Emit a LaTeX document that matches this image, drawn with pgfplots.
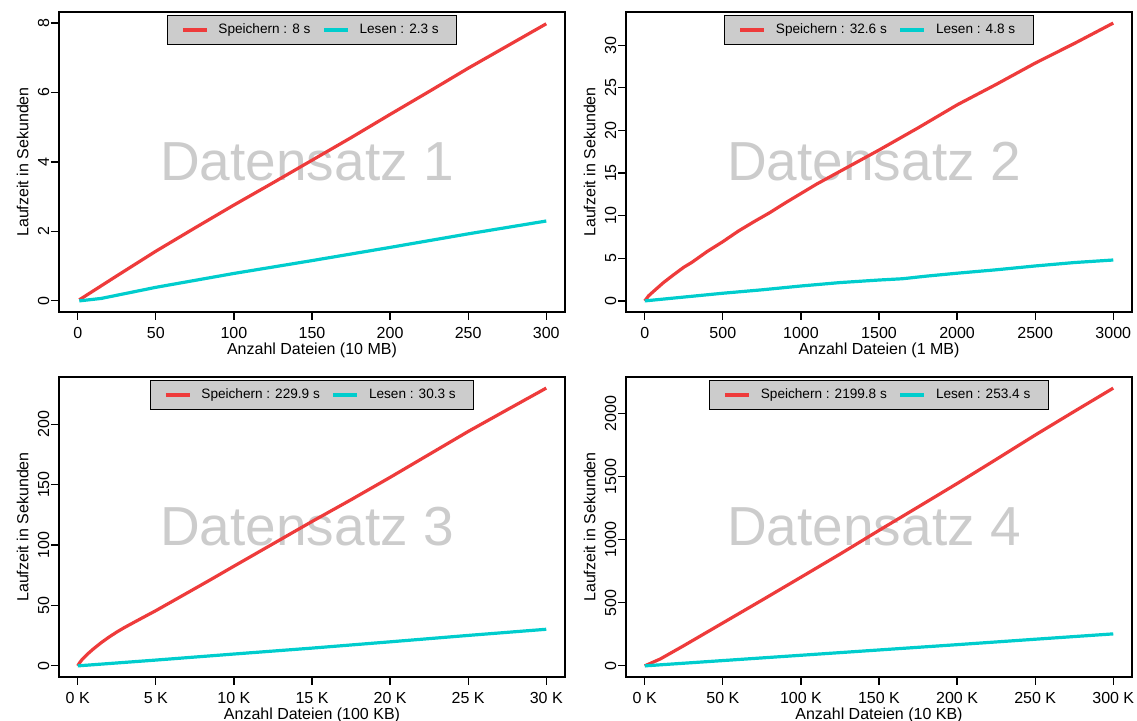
\documentclass[border=0pt]{standalone}
\usepackage{fontspec}
\setmainfont{Liberation Sans}
\usepackage{pgfplots}
\pgfplotsset{compat=1.18}
\definecolor{speichern}{HTML}{EE3B3B}
\definecolor{lesen}{HTML}{00CDCD}
\definecolor{legbg}{HTML}{CCCCCC}
\definecolor{wmark}{HTML}{CCCCCC}

\tikzset{wm/.style={font=\fontsize{27.5}{33}\selectfont, text=wmark, anchor=center}}
\pgfplotsset{
  rplot/.style={
    scale only axis, width=253pt, height=150pt,
    anchor=south west,
    axis line style={line width=0.6pt},
    tick align=outside, xtick pos=bottom, ytick pos=left,
    major tick length=4pt, tick style={line width=0.6pt, black},
    /pgf/number format/assume math mode=true,
    /pgf/number format/1000 sep={},
    ticklabel style={font=\fontsize{8}{9.6}\selectfont},
    yticklabel style={rotate=90, anchor=south, inner ysep=0.7pt},
    label style={font=\fontsize{8}{9.6}\selectfont},
    xlabel style={at={(axis description cs:0.5,-0.127)}, anchor=center},
    ylabel style={at={(axis description cs:-0.072,0.5)}, anchor=center},
    ylabel={Laufzeit in Sekunden},
    legend columns=2,
    legend style={at={(axis description cs:0.5,0.99)}, anchor=north,
      fill=legbg, draw=black, line width=0.6pt,
      font=\fontsize{6.8}{8}\selectfont,
      inner xsep=7pt, inner ysep=2pt,
      /tikz/every odd column/.append style={column sep=3pt},
      /tikz/every even column/.append style={column sep=4pt}},
    legend image code/.code={\draw[#1] (0pt,0pt) -- (12pt,0pt);},
    every axis plot/.append style={line width=1.6pt},
  },
}

\begin{document}
\begin{tikzpicture}
\useasboundingbox (0,0) rectangle (568.5pt,360.5pt);

% Datensatz 1
\begin{axis}[rplot, at={(29.5pt,204.5pt)},
  xmin=-12, xmax=312, ymin=-0.32, ymax=8.32,
  xtick={0,50,...,300}, ytick={0,2,4,6,8},
  xlabel={Anzahl Dateien (10 MB)}]
\node[wm] at (axis description cs:0.49,0.5) {Datensatz 1};
\addplot[speichern] coordinates {(1,0.03) (25,0.72) (50,1.43) (75,2.1) (100,2.76) (125,3.4) (150,4.05) (175,4.7) (200,5.37) (225,6.03) (250,6.7) (275,7.34) (300,7.98)};
\addplot[lesen] coordinates {(1,0) (15,0.07) (50,0.39) (100,0.79) (150,1.16) (200,1.54) (250,1.93) (300,2.3)};
\legend{Speichern : 8 s, Lesen : 2.3 s}
\end{axis}

% Datensatz 2
\begin{axis}[rplot, at={(313pt,204.5pt)},
  xmin=-120, xmax=3120, ymin=-1.3, ymax=33.9,
  xtick={0,500,...,3000}, ytick={0,5,...,30},
  xlabel={Anzahl Dateien (1 MB)}]
\node[wm] at (axis description cs:0.49,0.5) {Datensatz 2};
\addplot[speichern] coordinates {(0,0) (25,0.6) (55,1.1) (120,2.15) (180,3.0) (250,3.95) (300,4.5) (400,5.8) (500,6.95) (600,8.2) (700,9.3) (800,10.35) (900,11.5) (1000,12.6) (1100,13.7) (1250,15.2) (1500,17.7) (1750,20.3) (2000,23.0) (2250,25.4) (2500,27.9) (2750,30.2) (3000,32.6)};
\addplot[lesen] coordinates {(0,0) (250,0.45) (500,0.9) (750,1.3) (1000,1.75) (1250,2.15) (1500,2.45) (1650,2.6) (1800,2.9) (2000,3.25) (2250,3.65) (2500,4.1) (2750,4.5) (3000,4.8)};
\legend{Speichern : 32.6 s, Lesen : 4.8 s}
\end{axis}

% Datensatz 3
\begin{axis}[rplot, at={(29.5pt,22pt)},
  xmin=-1200, xmax=31200, ymin=-9.2, ymax=239.1,
  xtick={0,5000,...,30000}, xticklabels={0 K,5 K,10 K,15 K,20 K,25 K,30 K},
  ytick={0,50,...,200}, scaled x ticks=false,
  xlabel={Anzahl Dateien (100 KB)}]
\node[wm] at (axis description cs:0.49,0.5) {Datensatz 3};
\addplot[speichern] coordinates {(0,0) (100,2.2) (250,4.8) (500,8.2) (750,11.2) (1000,14) (1500,19.2) (2000,23.8) (2500,28) (3000,31.8) (4000,38.8) (5000,45.7) (6000,53) (7000,60.3) (8500,71.3) (10000,82.5) (12500,101) (15000,119.5) (17500,137.5) (20000,156) (22500,175) (25000,194) (27500,212) (30000,229.9)};
\addplot[lesen] coordinates {(0,0) (5000,4.8) (10000,9.8) (15000,14.7) (20000,19.9) (25000,25.2) (30000,30.3)};
\legend{Speichern : 229.9 s, Lesen : 30.3 s}
\end{axis}

% Datensatz 4
\begin{axis}[rplot, at={(313pt,22pt)},
  xmin=-12000, xmax=312000, ymin=-88, ymax=2288,
  xtick={0,50000,...,300000}, xticklabels={0 K,50 K,100 K,150 K,200 K,250 K,300 K},
  ytick={0,500,...,2000}, scaled x ticks=false,
  xlabel={Anzahl Dateien (10 KB)}]
\node[wm] at (axis description cs:0.49,0.5) {Datensatz 4};
\addplot[speichern] coordinates {(0,0) (10000,55) (25000,160) (50000,340) (75000,520) (100000,702) (125000,885) (150000,1073) (175000,1258) (200000,1444) (225000,1635) (250000,1828) (275000,2015) (300000,2199.8)};
\addplot[lesen] coordinates {(0,0) (50000,42) (100000,84) (150000,126) (200000,168) (250000,211) (300000,253.4)};
\legend{Speichern : 2199.8 s, Lesen : 253.4 s}
\end{axis}
\end{tikzpicture}
\end{document}
